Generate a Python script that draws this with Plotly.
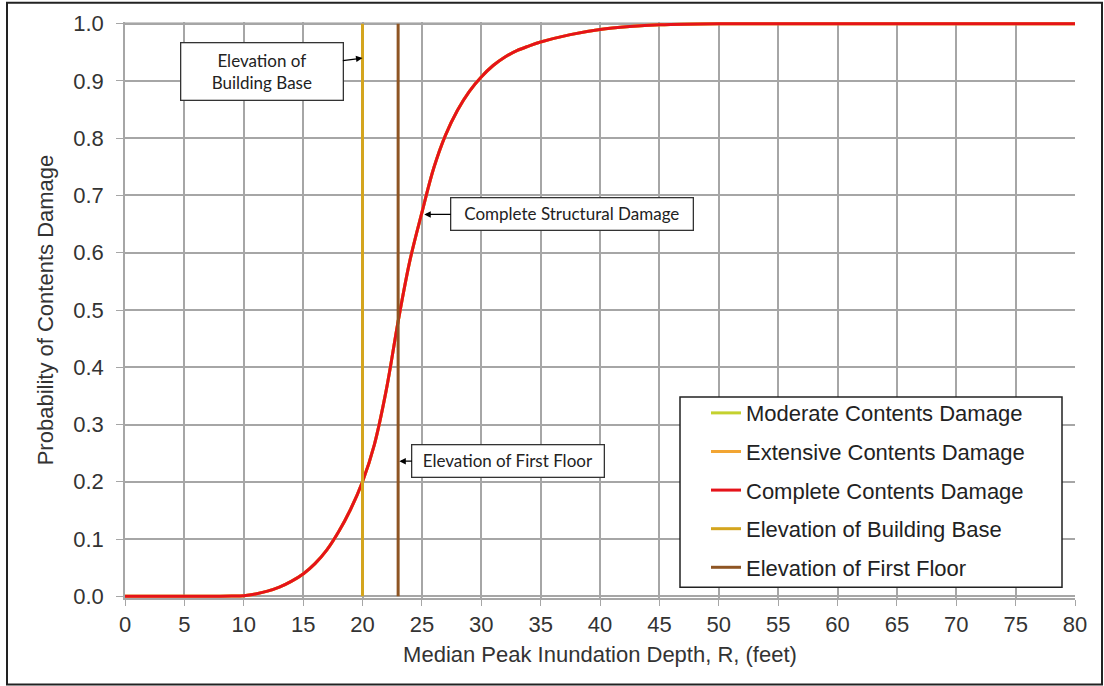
import plotly.graph_objects as go

# ---- data ----
depth_ft = [0, 5, 8, 9, 10, 11, 12, 13, 14, 15, 16, 17, 18, 19, 20, 21, 22, 23, 24, 25, 26, 27, 28,
            29, 30, 31, 32, 33, 34, 35, 37.5, 40, 42.5, 45, 50, 55, 60, 65, 70, 75, 80]
prob_complete = [0, 0, 0, 0.0003, 0.001, 0.004, 0.009, 0.016, 0.026, 0.039, 0.057, 0.081, 0.113,
                 0.152, 0.200, 0.265, 0.360, 0.480, 0.587, 0.670, 0.748, 0.806, 0.849, 0.882,
                 0.907, 0.927, 0.942, 0.953, 0.961, 0.968, 0.981, 0.990, 0.995, 0.998, 1.0, 1.0,
                 1.0, 1.0, 1.0, 1.0, 1.0]
prob_moderate = prob_complete
prob_extensive = prob_complete

building_base_ft = 20
first_floor_ft = 23

x_ticks = list(range(0, 85, 5))
y_ticks = [0.0, 0.1, 0.2, 0.3, 0.4, 0.5, 0.6, 0.7, 0.8, 0.9, 1.0]

FONT = "Liberation Sans, Arial, sans-serif"
NOTE_FONT = "Lato, Carlito, Calibri, sans-serif"

# pixel -> paper helpers (plot area: x 125..1075, y 22.3..597.7)
def px_x(p):
    return (p - 125) / 950

def px_y(p):
    return (597.7 - p) / 575.4

fig = go.Figure()

fig.add_trace(go.Scatter(x=depth_ft, y=prob_moderate, mode="lines", name="Moderate Contents Damage",
                         line=dict(color="#C4D12E", width=3, shape="spline"), legendgroup="a"))
fig.add_trace(go.Scatter(x=depth_ft, y=prob_extensive, mode="lines", name="Extensive Contents Damage",
                         line=dict(color="#F2A533", width=3, shape="spline"), legendgroup="b"))
fig.add_trace(go.Scatter(x=depth_ft, y=prob_complete, mode="lines", name="Complete Contents Damage",
                         line=dict(color="#E5131A", width=3, shape="spline"), legendgroup="c"))
fig.add_trace(go.Scatter(x=[building_base_ft, building_base_ft], y=[0, 1], mode="lines",
                         name="Elevation of Building Base",
                         line=dict(color="#D4A51E", width=3), legendgroup="d"))
fig.add_trace(go.Scatter(x=[first_floor_ft, first_floor_ft], y=[0, 1], mode="lines",
                         name="Elevation of First Floor",
                         line=dict(color="#8E5523", width=3), legendgroup="e"))

# top plot border at 1.0
fig.add_shape(type="line", xref="x", yref="y", x0=0, x1=80, y0=1, y1=1,
              line=dict(color="#333333", width=2), layer="below")

# outer frame
fig.add_shape(type="rect", xref="paper", yref="paper",
              x0=px_x(7), x1=px_x(1102), y0=px_y(684), y1=px_y(3),
              line=dict(color="#222222", width=2), fillcolor="rgba(0,0,0,0)")

# legend frame
fig.add_shape(type="rect", xref="paper", yref="paper",
              x0=px_x(680), x1=px_x(1062), y0=px_y(587), y1=px_y(397),
              line=dict(color="#222222", width=1.5), fillcolor="white", layer="above")

ann_common = dict(showarrow=True, arrowhead=2, arrowsize=1, arrowwidth=1.3, arrowcolor="#000000",
                  bordercolor="#333333", borderwidth=1.3, bgcolor="white",
                  font=dict(family=NOTE_FONT, size=17, color="#222222"), xref="x", yref="y")
fig.add_annotation(x=20, y=0.94, text="Elevation of<br>Building Base", ax=-101, ay=13,
                   width=159, height=54, **ann_common)
fig.add_annotation(x=25.2, y=0.667, text="Complete Structural Damage", ax=148, ay=0,
                   width=239, height=29, **ann_common)
fig.add_annotation(x=23.1, y=0.236, text="Elevation of First Floor", ax=109, ay=0,
                   width=189, height=29, **ann_common)

fig.update_layout(
    width=1104, height=686,
    margin=dict(l=125, r=29, t=22, b=88),
    paper_bgcolor="white", plot_bgcolor="white",
    font=dict(family=FONT, size=22, color="#333333"),
    showlegend=True,
    legend=dict(x=px_x(706), y=px_y(392), xanchor="left", yanchor="top",
                bgcolor="rgba(0,0,0,0)", borderwidth=0,
                font=dict(family=FONT, size=22, color="#222222"),
                traceorder="grouped", tracegroupgap=7, itemwidth=30),
    xaxis=dict(range=[0, 80], tickmode="array", tickvals=x_ticks,
               showgrid=True, gridcolor="#A6A6A6", gridwidth=1.5,
               showline=True, linecolor="#A6A6A6", linewidth=1.5,
               ticks="outside", ticklen=6, tickcolor="#A6A6A6",
               tickfont=dict(size=22), zeroline=False,
               title=dict(text="Median Peak Inundation Depth, R, (feet)", font=dict(size=22), standoff=10)),
    yaxis=dict(range=[-0.003, 1.003], tickmode="array", tickvals=y_ticks, tickformat=".1f",
               showgrid=True, gridcolor="#A6A6A6", gridwidth=1.5,
               showline=True, linecolor="#A6A6A6", linewidth=1.5,
               ticks="outside", ticklen=7, tickcolor="#A6A6A6", ticklabelstandoff=8,
               tickfont=dict(size=22), zeroline=False,
               title=dict(text="Probability of Contents Damage", font=dict(size=22), standoff=14)),
)

fig.write_html("out.html")
